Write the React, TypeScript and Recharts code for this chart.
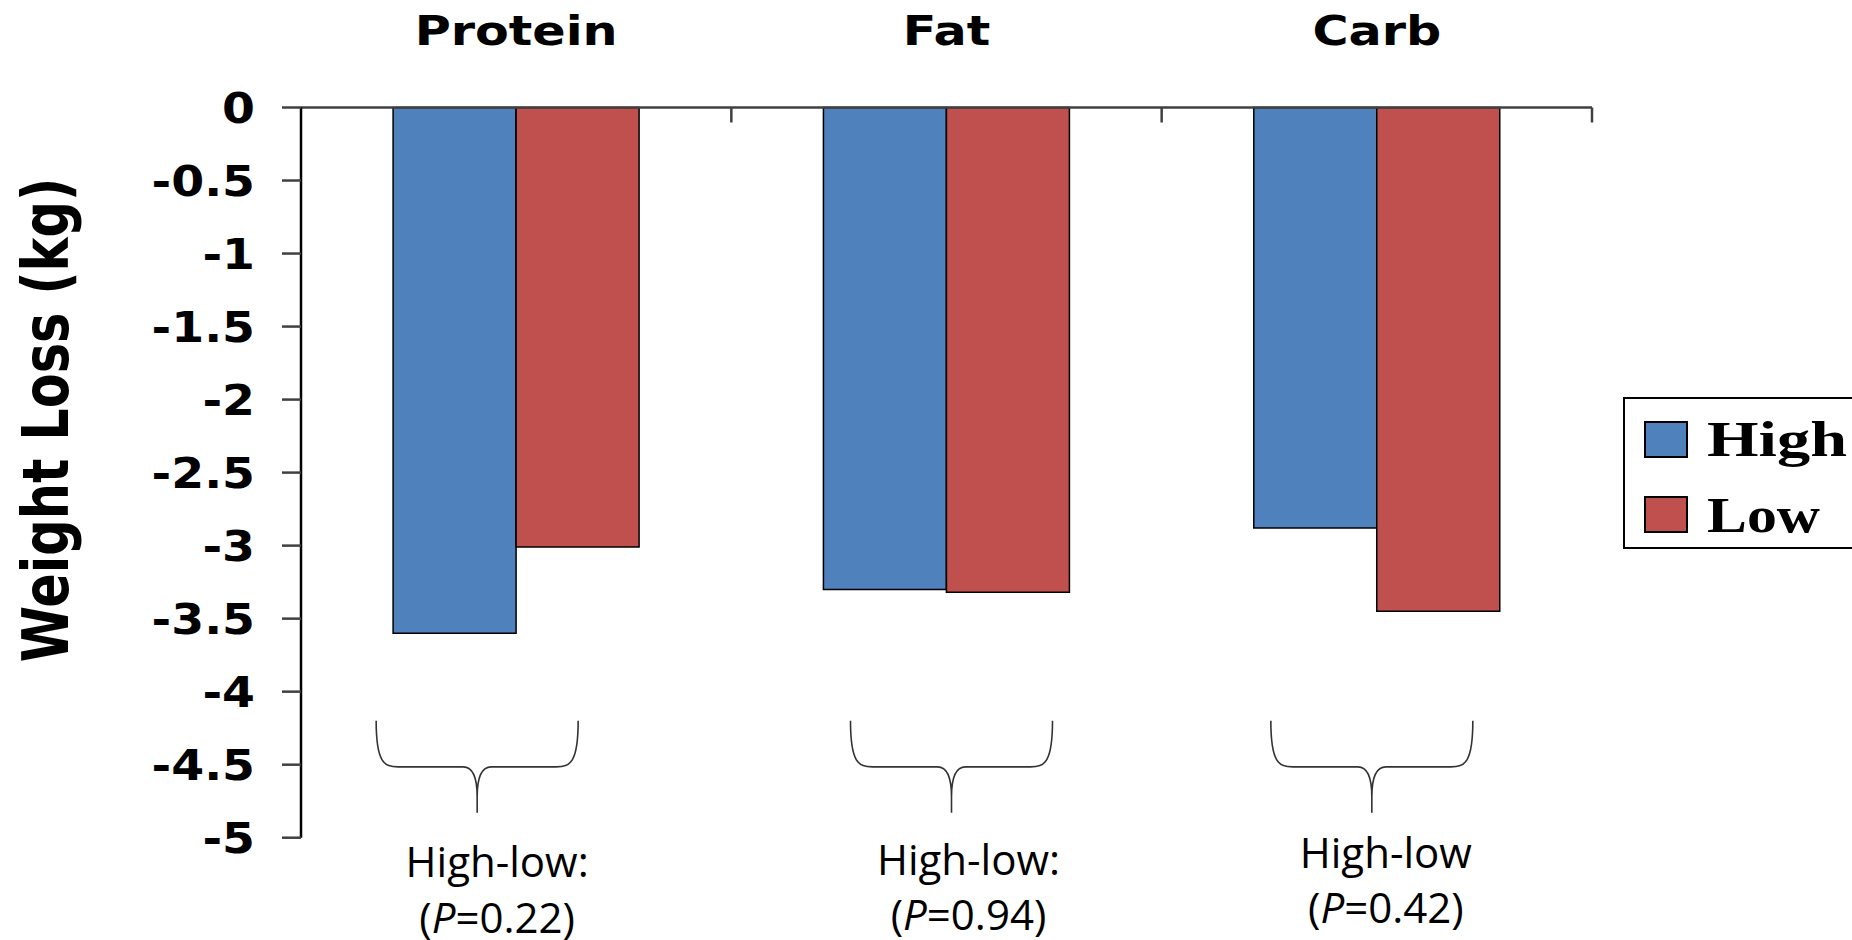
import React from 'react';
import { BarChart, Bar, XAxis, YAxis, Legend, ReferenceDot } from 'recharts';

// ---- data ----
const categories = ['Protein', 'Fat', 'Carb'];
const highValues = [-3.6, -3.3, -2.88];
const lowValues = [-3.01, -3.32, -3.45];
const seriesNames = ['High', 'Low'];
const yTicks = [0, -0.5, -1, -1.5, -2, -2.5, -3, -3.5, -4, -4.5, -5];
const noteLine1 = ['High-low:', 'High-low:', 'High-low'];
const notePValues = ['0.22', '0.94', '0.42'];
const braceTopValue = -4.2;

const data = categories.map((c, i) => ({
  name: c,
  [seriesNames[0]]: highValues[i],
  [seriesNames[1]]: lowValues[i],
}));

// ---- styles / layout ----
const BLUE = '#4F81BD';
const RED = '#C0504D';
const AXIS = '#404040';
const braceDx = [-39, 5, -5];
const textDx = [-19, 22, 9];
const line1Dy = [156, 154, 147];
const line2Dy = [212, 209, 202];

const CategoryTick = (props: any) => {
  const { x, y, payload, width, visibleTicksCount } = props;
  let half = payload && typeof payload.offset === 'number' && payload.offset > 0 ? payload.offset : 0;
  if (!half && width && visibleTicksCount) half = width / visibleTicksCount / 2;
  return (
    <g>
      <line x1={x + half} x2={x + half} y1={y} y2={y + 15} stroke={AXIS} strokeWidth={2.5} />
      <text
        transform={`translate(${x},${y - 62.5}) scale(1.2,1)`}
        textAnchor="middle"
        fontFamily="DejaVu Sans"
        fontWeight="bold"
        fontSize={41}
        fill="#000"
      >
        {payload.value}
      </text>
    </g>
  );
};

const ValueTick = (props: any) => {
  const { x, y, payload } = props;
  return (
    <text
      transform={`translate(${x},${y}) scale(1.1,1)`}
      textAnchor="end"
      dy="0.36em"
      fontFamily="DejaVu Sans"
      fontWeight="bold"
      fontSize={43}
      fill="#000"
    >
      {payload.value}
    </text>
  );
};

const YTitle = (props: any) => {
  const vb = props.viewBox || { x: 0, y: 0, width: 0, height: 0 };
  const tx = vb.x + 68;
  const ty = 420;
  return (
    <text
      transform={`translate(${tx},${ty}) scale(1.27,1) rotate(-90)`}
      textAnchor="middle"
      fontFamily="DejaVu Sans"
      fontWeight="bold"
      fontSize={51}
      fill="#000"
    >
      Weight Loss (kg)
    </text>
  );
};

const makeBrace = (i: number) => (props: any) => {
  const { cx, cy } = props;
  if (cx == null || cy == null) return <g />;
  const bx = cx + braceDx[i];
  const w = 101;
  const h = 46;
  const tip = 92;
  const d = [
    `M ${bx - w} ${cy}`,
    `C ${bx - w} ${cy + h - 4} ${bx - w + 8} ${cy + h} ${bx - w + 22} ${cy + h}`,
    `L ${bx - 14} ${cy + h}`,
    `C ${bx - 4} ${cy + h} ${bx} ${cy + h + 10} ${bx} ${cy + h + 30}`,
    `L ${bx} ${cy + tip}`,
    `M ${bx} ${cy + h + 30}`,
    `C ${bx} ${cy + h + 10} ${bx + 4} ${cy + h} ${bx + 14} ${cy + h}`,
    `L ${bx + w - 22} ${cy + h}`,
    `C ${bx + w - 8} ${cy + h} ${bx + w} ${cy + h - 4} ${bx + w} ${cy}`,
  ].join(' ');
  const tx = cx + textDx[i];
  return (
    <g>
      <path d={d} fill="none" stroke="#333" strokeWidth={1.6} />
      <text x={tx} y={cy + line1Dy[i]} textAnchor="middle" fontFamily="Open Sans" fontSize={42} fill="#000">
        {noteLine1[i]}
      </text>
      <text x={tx} y={cy + line2Dy[i]} textAnchor="middle" fontFamily="Open Sans" fontSize={42} fill="#000">
        (<tspan fontStyle="italic">P</tspan>={notePValues[i]})
      </text>
    </g>
  );
};

const LegendBox = (props: any) => {
  const payload = props.payload || [];
  const lens = [140, 113];
  return (
    <svg width={229} height={153} style={{ display: 'block' }}>
      <rect x={1} y={1} width={260} height={150} fill="#fff" stroke="#000" strokeWidth={2} />
      {payload.map((p: any, i: number) => (
        <g key={p.value}>
          <rect x={22} y={25 + i * 75} width={42} height={35} fill={p.color} stroke="#000" strokeWidth={2} />
          <text
            x={84}
            y={59 + i * 76}
            fontFamily="Liberation Serif"
            fontWeight="bold"
            fontSize={50}
            textLength={lens[i]}
            lengthAdjust="spacingAndGlyphs"
            fill="#000"
          >
            {p.value}
          </text>
        </g>
      ))}
    </svg>
  );
};

export default function App() {
  return (
    <div style={{ position: 'absolute', left: 0, top: 0, width: 1852, height: 940, background: '#fff' }}>
      <BarChart
        width={1852}
        height={940}
        data={data}
        margin={{ top: 47.5, right: 260, bottom: 102.3, left: 0 }}
        barCategoryGap="21.4%"
        barGap={0}
      >
        <XAxis
          xAxisId="cat"
          dataKey="name"
          orientation="top"
          height={60}
          axisLine={{ stroke: AXIS, strokeWidth: 2.5 }}
          tickLine={false}
          tickSize={0}
          tickMargin={0}
          tick={<CategoryTick />}
          interval={0}
        />
        <YAxis
          type="number"
          domain={[-5, 0]}
          ticks={yTicks}
          interval={0}
          width={301}
          axisLine={{ stroke: '#000', strokeWidth: 2.5 }}
          tickLine={{ stroke: AXIS, strokeWidth: 2.5 }}
          tickSize={19}
          tickMargin={27}
          tick={<ValueTick />}
          label={{ content: (p: any) => <YTitle {...p} /> }}
        />
        <Legend
          layout="horizontal"
          verticalAlign="middle"
          align="center"
          content={<LegendBox />}
          wrapperStyle={{ position: 'absolute', left: 1623, top: 397, width: 229, height: 153 }}
        />
        <Bar xAxisId="cat" dataKey={seriesNames[0]} fill={BLUE} stroke="#000" strokeWidth={1.5} isAnimationActive={false} />
        <Bar xAxisId="cat" dataKey={seriesNames[1]} fill={RED} stroke="#000" strokeWidth={1.5} isAnimationActive={false} />
        {categories.map((c, i) => (
          <ReferenceDot
            key={c}
            xAxisId="cat"
            x={c}
            y={braceTopValue}
            r={0}
            ifOverflow="visible"
            shape={makeBrace(i)}
          />
        ))}
      </BarChart>
    </div>
  );
}
